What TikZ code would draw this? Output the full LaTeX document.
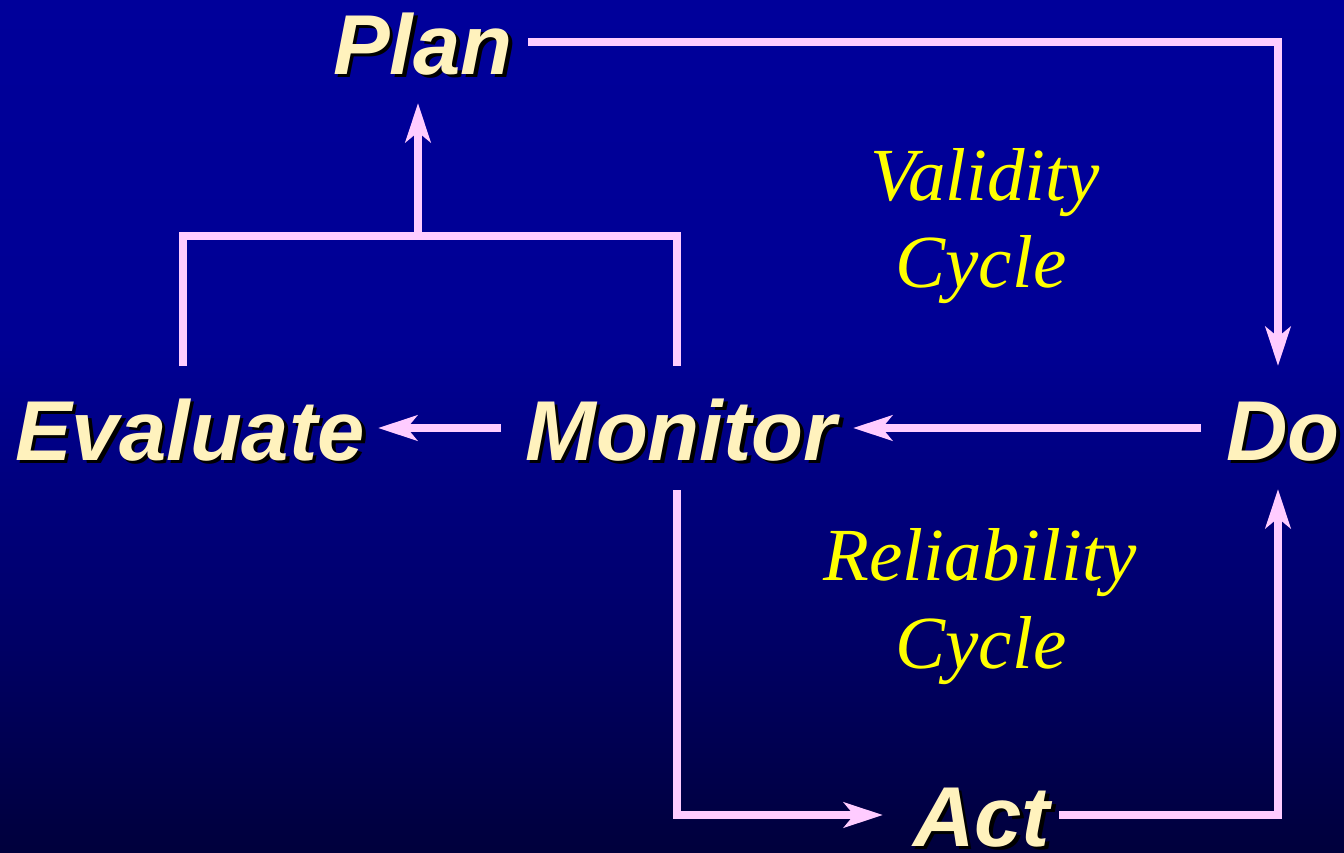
\documentclass[tikz,border=0pt]{standalone}
\usepackage{fontspec}
\setmainfont{Liberation Serif}
\setsansfont{Liberation Sans}
\usetikzlibrary{arrows.meta}
\definecolor{bgtop}{HTML}{00009A}
\definecolor{bgmid}{HTML}{000094}
\definecolor{bglow}{HTML}{00006E}
\definecolor{bgbot}{HTML}{00003C}
\definecolor{arrowpink}{HTML}{FFCCFF}
\definecolor{labelcream}{HTML}{FFF2BD}
\definecolor{cycleyellow}{HTML}{FFFF00}
\pgfdeclareverticalshading{bgshade}{100bp}{color(0bp)=(bgbot); color(25bp)=(bgbot); color(40bp)=(bglow); color(55bp)=(bgmid); color(75bp)=(bgtop); color(100bp)=(bgtop)}
\newcommand{\shadowed}[1]{\makebox[0pt][l]{\hspace{3.5pt}\raisebox{-3.5pt}{\color{black}#1}}#1}
\tikzset{
  lbl/.style={font=\sffamily\bfseries\itshape\fontsize{85}{85}\selectfont, text=labelcream, inner sep=0pt, anchor=base west},
  cyc/.style={font=\rmfamily\itshape\fontsize{75}{87}\selectfont, text=cycleyellow, inner sep=0pt, anchor=base},
  conn/.style={draw=arrowpink, line width=8.5pt, line join=miter},
  arr/.style={conn, -{Stealth[length=39pt,width=25pt,inset=10pt]}},
}
\begin{document}
\begin{tikzpicture}[x=1pt,y=-1pt]
\useasboundingbox (0,0) rectangle (1344,852);
\shade[shading=bgshade] (0,0) rectangle (1344,852);

% labels with shadow
\node[lbl] (plan) at (333,74) {\shadowed{Plan}};
\node[lbl] (do) at (1226,460) {\shadowed{Do}};
\node[lbl] (evaluate) at (15,460) {\shadowed{Evaluate}};
\node[lbl] (monitor) at (525,460) {\shadowed{Monitor}};
\node[lbl] (act) at (913,846) {\shadowed{Act}};

% cycle labels
\node[cyc] (val1) at (985,200) {Validity};
\node[cyc] (val2) at (981,287) {Cycle};
\node[cyc] (rel1) at (980,580) {Reliability};
\node[cyc] (rel2) at (981,668) {Cycle};

% connector coordinates
\coordinate (planR) at (528,42);
\coordinate (planCorner) at (1278,42);
\coordinate (doTop) at (1278,366);
\coordinate (doLeft) at (1201,428);
\coordinate (monRight) at (853,428);
\coordinate (monLeft) at (501,428);
\coordinate (evalRight) at (378,428);
\coordinate (evalTop) at (183,366);
\coordinate (brL) at (183,236);
\coordinate (brR) at (677,236);
\coordinate (monTop) at (677,366);
\coordinate (brMid) at (418,236);
\coordinate (planBottom) at (418,103);
\coordinate (monBottom) at (677,490);
\coordinate (actCornerL) at (677,815);
\coordinate (actLeft) at (883,815);
\coordinate (actRight) at (1059,815);
\coordinate (actCornerR) at (1278,815);
\coordinate (doBottom) at (1278,489);

% connectors
\draw[arr] (planR) -- (planCorner) -- (doTop);
\draw[arr] (doLeft) -- (monRight);
\draw[arr] (monLeft) -- (evalRight);
\draw[conn] (evalTop) -- (brL) -- (brR) -- (monTop);
\draw[arr] (brMid) -- (planBottom);
\draw[arr] (monBottom) -- (actCornerL) -- (actLeft);
\draw[arr] (actRight) -- (actCornerR) -- (doBottom);
\end{tikzpicture}
\end{document}
